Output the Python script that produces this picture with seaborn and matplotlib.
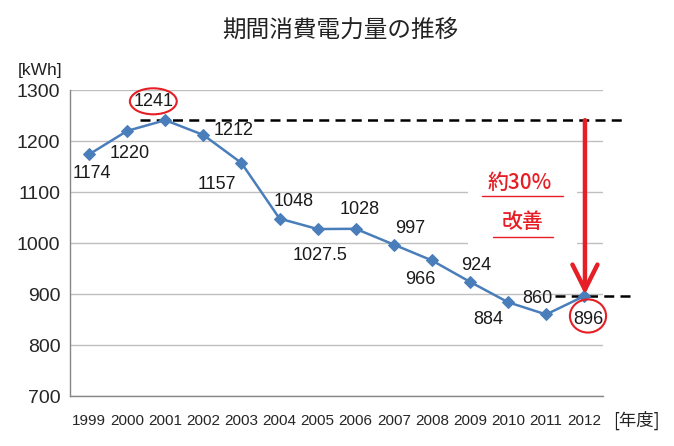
import numpy as np
import pandas as pd
import seaborn as sns
import matplotlib.pyplot as plt
from matplotlib.patches import Ellipse, Rectangle

years = ["1999", "2000", "2001", "2002", "2003", "2004", "2005",
         "2006", "2007", "2008", "2009", "2010", "2011", "2012"]
usage = [1174, 1220, 1241, 1212, 1157, 1048, 1027.5,
         1028, 997, 966, 924, 884, 860, 896]
value_labels = ["1174", "1220", "1241", "1212", "1157", "1048", "1027.5",
                "1028", "997", "966", "924", "884", "860", "896"]
# where each value label sits relative to its point (pixels)
label_offsets = [(3, -19), (2, -23), (-12, 19), (30, 4), (-25, -21), (14, 17), (2, -26),
                 (4, 19), (16, 16), (-12, -19), (6, 16), (-20, -17), (-9, 16), (4, -23)]

df = pd.DataFrame({"idx": np.arange(len(years)), "kwh": usage})

sns.set_theme(style="white")
plt.rcParams['font.family'] = ['Liberation Sans', 'Noto Sans CJK JP', 'DejaVu Sans']
jp = ['Noto Sans CJK JP', 'DejaVu Sans']

fig = plt.figure(figsize=(6.74, 4.46), dpi=100)
ax = fig.add_axes([0.104, 0.112, 0.791, 0.686])

blue = "#4a7ebb"
red = "#e61e25"

sns.lineplot(data=df, x="idx", y="kwh", ax=ax, color=blue, linewidth=1.8,
             marker="D", markersize=6, markeredgecolor=blue, zorder=5)

ax.set_xlim(-0.5, len(years) - 0.5)
ax.set_ylim(700, 1300)
ax.set_yticks(range(700, 1301, 100))
ax.set_xticks(range(len(years)))
ax.set_xticklabels(years, fontsize=11)
ax.set_xticks(np.arange(-0.5, len(years), 1), minor=True)
ax.tick_params(axis="x", which="major", length=0, pad=13)
ax.tick_params(axis="x", which="minor", length=5, color="#868686", width=1, direction="out")
ax.tick_params(axis="y", labelsize=14, length=3, color="#868686", width=1, pad=4)
ax.yaxis.grid(True, color="#bfbfbf", linewidth=1)
ax.set_axisbelow(True)
ax.set_xlabel("")
ax.set_ylabel("")
for s in ["top", "right"]:
    ax.spines[s].set_visible(False)
for s in ["left", "bottom"]:
    ax.spines[s].set_color("#868686")
    ax.spines[s].set_linewidth(1)

# value labels
for i, (lab, off) in enumerate(zip(value_labels, label_offsets)):
    ax.annotate(lab, (i, usage[i]), xytext=off, textcoords="offset pixels",
                ha="center", va="center", fontsize=13, color="#1a1a1a", zorder=6)

# red rings on first peak and last year
ax.add_patch(Ellipse((1.685, 1278), 1.23, 51, fill=False, edgecolor=red,
                     linewidth=1.5, clip_on=False, zorder=6))
ax.add_patch(Ellipse((13.1, 857), 0.95, 65, fill=False, edgecolor=red,
                     linewidth=1.5, clip_on=False, zorder=6))

# dashed reference lines
ax.plot([1.34, 14.07], [usage[2], usage[2]], color="black", linestyle=(0, (4, 2.5)),
        linewidth=1.8, clip_on=False, zorder=4)
ax.plot([12.23, 14.28], [usage[-1], usage[-1]], color="black", linestyle=(0, (4, 2.5)),
        linewidth=1.8, clip_on=False, zorder=4)

# arrow showing the reduction
ax.annotate("", xy=(13.02, 899), xytext=(13.02, 1241),
            arrowprops=dict(arrowstyle="->,head_length=1.5,head_width=0.75",
                            color=red, linewidth=3.2, shrinkA=0, shrinkB=0),
            zorder=7)

# white box behind the note, masking grid lines
ax.add_patch(Rectangle((9.95, 986), 2.86, 167, facecolor="white", edgecolor="none", zorder=1))
ax.text(11.31, 1118, "約30%", ha="center", va="center", fontsize=15,
        fontweight="medium", color=red, family=jp, zorder=6)
ax.text(11.37, 1041, "改善", ha="center", va="center", fontsize=15,
        fontweight="medium", color=red, family=jp, zorder=6)
ax.plot([10.31, 12.44], [1092, 1092], color=red, linewidth=1, zorder=6)
ax.plot([10.60, 12.18], [1012, 1012], color=red, linewidth=1, zorder=6)

fig.text(0.505, 0.933, "期間消費電力量の推移", ha="center", va="center",
         fontsize=17, color="#222222", family=jp)
fig.text(0.059, 0.843, "[kWh]", ha="center", va="center", fontsize=12.5, color="#222222")
fig.text(0.944, 0.058, "[年度]", ha="center", va="center", fontsize=12.5,
         color="#222222", family=jp)

fig.savefig("out.png", dpi=100)
